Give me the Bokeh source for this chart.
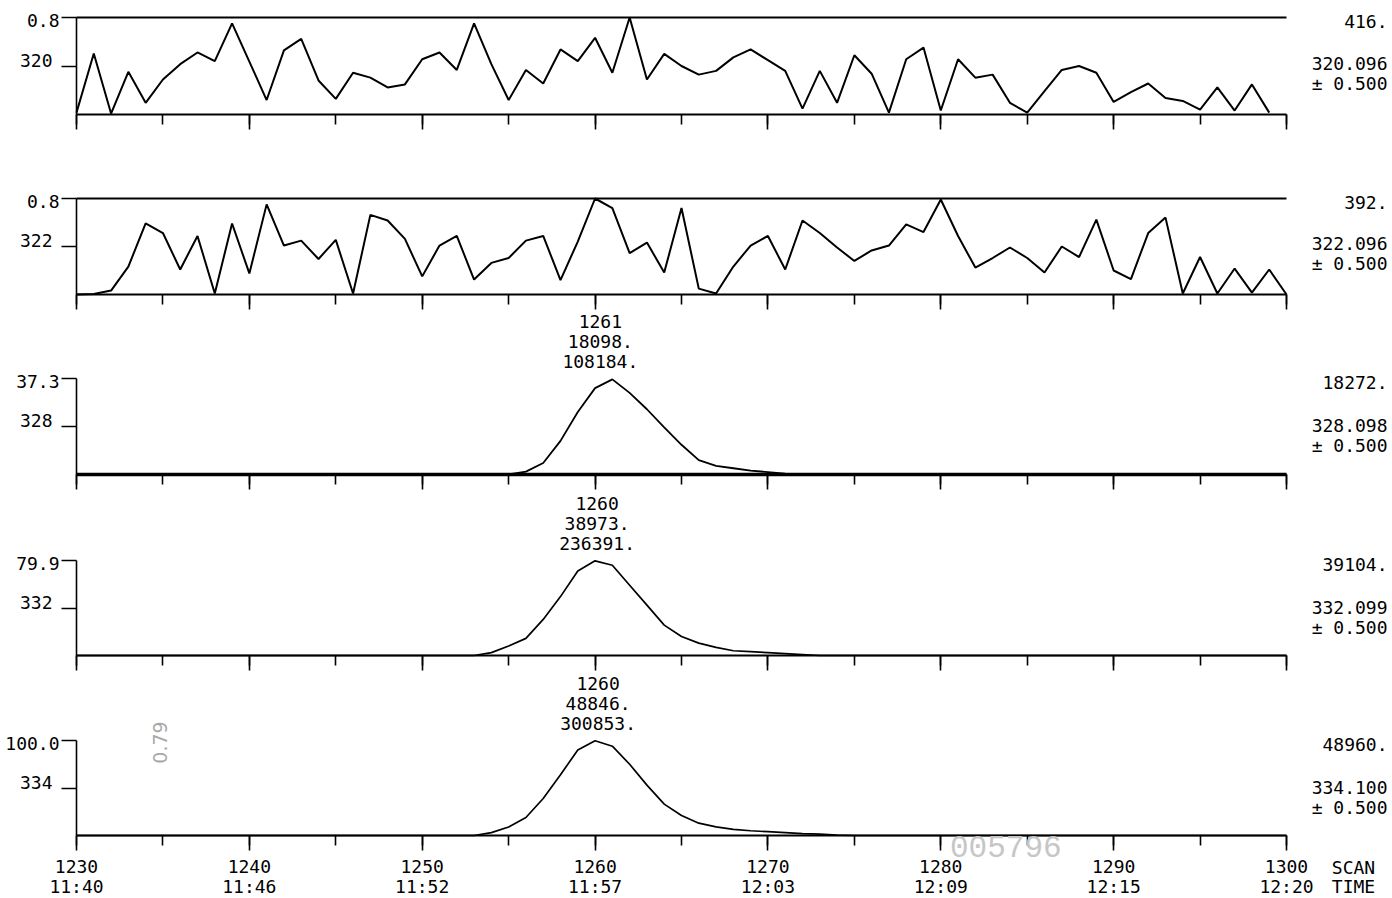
from math import pi
from bokeh.plotting import figure
from bokeh.models import (LinearAxis, SingleIntervalTicker, FixedTicker,
                          Label, Range1d)
from bokeh.layouts import column
from bokeh.embed import file_html
from bokeh.resources import INLINE

FONT = "DejaVu Sans Mono"
FS = "18px"

# ---------------- data ----------------
scan_ticks = [1230, 1240, 1250, 1260, 1270, 1280, 1290, 1300]
time_labels = ["11:40", "11:46", "11:52", "11:57", "12:03", "12:09", "12:15", "12:20"]

mass_nominal = ["320", "322", "328", "332", "334"]
mass_exact = ["320.096", "322.096", "328.098", "332.099", "334.100"]
mass_window = "± 0.500"
scale_pct = ["0.8", "0.8", "37.3", "79.9", "100.0"]
full_scale = [416, 392, 18272, 39104, 48960]

# m/z 320 trace (scans 1230-1299)
scans_320 = list(range(1230, 1300))
ion_320 = [8, 262, 4, 183, 50, 150, 216, 266, 229, 391,
           227, 62, 275, 324, 146, 67, 179, 158, 116, 129,
           237, 266, 191, 391, 216, 62, 191, 133, 279, 229,
           329, 179, 416, 150, 260, 208, 171, 187, 245, 279,
           233, 187, 25, 187, 50, 254, 175, 8, 237, 287,
           17, 237, 158, 171, 50, 8, 100, 191, 208, 179,
           54, 96, 133, 71, 58, 21, 116, 17, 129, 8]

# m/z 322 trace (scans 1230-1300)
scans_322 = list(range(1230, 1301))
ion_322 = [0, 2, 16, 114, 290, 251, 102, 239, 4, 290,
           86, 368, 200, 220, 145, 223, 4, 325, 302, 227,
           74, 200, 239, 61, 129, 149, 220, 239, 59, 216,
           392, 353, 169, 212, 90, 353, 24, 4, 114, 200,
           239, 102, 302, 251, 192, 137, 180, 200, 286, 255,
           388, 239, 110, 149, 192, 149, 90, 196, 153, 306,
           98, 63, 251, 314, 4, 153, 4, 106, 8, 102, 0]

# m/z 328 trace
scans_328 = [1230, 1255, 1256, 1257, 1258, 1259, 1260, 1261, 1262, 1263,
             1264, 1265, 1266, 1267, 1268, 1269, 1270, 1271, 1272, 1300]
ion_328 = [0, 0, 550, 2190, 6400, 11880, 16440, 18098, 15530, 12420,
           8950, 5660, 2740, 1640, 1190, 730, 460, 180, 0, 0]

# m/z 332 trace
scans_332 = [1230, 1253, 1254, 1255, 1256, 1257, 1258, 1259, 1260, 1261,
             1262, 1263, 1264, 1265, 1266, 1267, 1268, 1269, 1270, 1271,
             1272, 1273, 1300]
ion_332 = [0, 0, 1170, 3910, 7040, 14860, 24240, 34800, 38973, 37150,
           28940, 20730, 12510, 7820, 5080, 3320, 1960, 1560, 1170, 780,
           390, 0, 0]

# m/z 334 trace
scans_334 = [1230, 1253, 1254, 1255, 1256, 1257, 1258, 1259, 1260, 1261,
             1262, 1263, 1264, 1265, 1266, 1267, 1268, 1269, 1270, 1271,
             1272, 1273, 1274, 1275, 1300]
ion_334 = [0, 0, 1470, 4410, 9300, 19090, 31330, 44060, 48846, 46020,
           36720, 25950, 16160, 10280, 6360, 4410, 3180, 2450, 1960, 1470,
           980, 730, 240, 0, 0]

# peak annotations for panels 3-5
peak_scan = [1261, 1260, 1260]
peak_height = [18098, 38973, 48846]
peak_area = [108184, 236391, 300853]

traces = [(scans_320, ion_320), (scans_322, ion_322), (scans_328, ion_328),
          (scans_332, ion_332), (scans_334, ion_334)]

# ---------------- layout (pixel geometry of the page) ----------------
W = 1392
X_LEFT_PX, X_RIGHT_PX = 76, 1286          # page x of first / last scan tick
fig_h = [150, 162, 180, 182, 224]          # heights of the stacked figures
fig_top = [0, 150, 312, 492, 674]          # page y where each figure starts
panel_top = [17, 198, 378, 560, 740]       # page y of full scale
panel_base = [114, 294, 474, 655, 835]     # page y of zero
trace_lw = [2, 2, 1.8, 1.7, 1.7]
base_lw = [2, 2, 3.5, 2, 2]
ann_dx = [-12, 2, 3]

s0, s1 = scan_ticks[0], scan_ticks[-1]
ppu = (X_RIGHT_PX - X_LEFT_PX) / (s1 - s0)
x_start = s0 - X_LEFT_PX / ppu
x_end = s1 + (W - X_RIGHT_PX) / ppu


def lab(p, x, y, text, dx=0, dy=0, align="center", font=FONT, size=FS,
        color="black", angle=0.0):
    p.add_layout(Label(x=x, y=y, x_offset=dx, y_offset=dy, text=text,
                       text_align=align, text_baseline="middle", angle=angle,
                       text_font=font, text_font_size=size, text_color=color))


figs = []
for i in range(5):
    fs = full_scale[i]
    H = fig_h[i]
    t = panel_top[i] - fig_top[i]
    b = panel_base[i] - fig_top[i]
    k = fs / (b - t)
    y_start = -(H - b) * k
    y_end = fs + t * k

    p = figure(width=W, height=H, x_range=Range1d(x_start, x_end),
               y_range=Range1d(y_start, y_end), output_backend="svg",
               toolbar_location=None, x_axis_location=None, y_axis_location=None,
               min_border=0)
    p.outline_line_color = None
    p.background_fill_color = "white"
    p.border_fill_color = "white"
    p.grid.visible = False

    # x axis along the baseline: major ticks every 10 scans, minor every 5
    xa = LinearAxis(ticker=SingleIntervalTicker(interval=10, num_minor_ticks=2),
                    fixed_location=0, bounds=(s0, s1))
    xa.axis_line_width = base_lw[i]
    xa.axis_line_color = "black"
    xa.major_tick_out = 15
    xa.major_tick_in = 0
    xa.minor_tick_out = 10
    xa.minor_tick_in = 0
    xa.major_tick_line_width = 1.6
    xa.minor_tick_line_width = 1.6
    xa.major_tick_line_color = "black"
    xa.minor_tick_line_color = "black"
    if i == 4:
        xa.major_label_text_font = FONT
        xa.major_label_text_font_size = FS
        xa.major_label_text_color = "black"
        xa.major_label_standoff = 9
    else:
        xa.major_label_text_color = None
    p.add_layout(xa, "below")

    if i == 4:
        ta = LinearAxis(ticker=FixedTicker(ticks=scan_ticks), fixed_location=0,
                        bounds=(s0, s1),
                        major_label_overrides={tk: tl for tk, tl in zip(scan_ticks, time_labels)})
        ta.axis_line_color = None
        ta.major_tick_line_color = None
        ta.minor_tick_line_color = None
        ta.major_tick_out = 0
        ta.major_tick_in = 0
        ta.major_label_standoff = 40
        ta.major_label_text_font = FONT
        ta.major_label_text_font_size = FS
        ta.major_label_text_color = "black"
        p.add_layout(ta, "below")

    # left axis: ticks at full scale and mid scale
    ya = LinearAxis(ticker=FixedTicker(ticks=[fs // 2, fs]), fixed_location=s0,
                    bounds=(0, fs))
    ya.axis_line_width = 1.6
    ya.axis_line_color = "black"
    ya.major_tick_out = 15
    ya.major_tick_in = 0
    ya.major_tick_line_width = 1.6
    ya.major_tick_line_color = "black"
    ya.major_label_text_color = None
    p.add_layout(ya, "left")

    # left texts: full-scale percent and nominal mass
    lab(p, s0, fs, scale_pct[i], dx=-17, dy=-3, align="right")
    lab(p, s0, fs // 2, mass_nominal[i], dx=-24, dy=6, align="right")

    if i < 2:
        p.segment(x0=[s0], y0=[fs], x1=[s1], y1=[fs], line_color="black", line_width=2)

    sx, sy = traces[i]
    p.line(sx, sy, line_color="black", line_width=trace_lw[i])

    # right-hand texts
    dy_mid = 3 if i < 2 else 1
    lab(p, s1, fs, f"{fs}.", dx=101, dy=-4, align="right")
    lab(p, s1, fs // 2, mass_exact[i], dx=101, dy=dy_mid, align="right")
    lab(p, s1, fs // 2, mass_window, dx=101, dy=dy_mid - 20, align="right")

    if i >= 2:
        j = i - 2
        lab(p, peak_scan[j], fs, str(peak_scan[j]), dx=ann_dx[j], dy=57)
        lab(p, peak_scan[j], fs, f"{peak_height[j]}.", dx=ann_dx[j], dy=37)
        lab(p, peak_scan[j], fs, f"{peak_area[j]}.", dx=ann_dx[j], dy=17)

    if i == 4:
        lab(p, s1, 0, "SCAN", dx=67, dy=-32)
        lab(p, s1, 0, "TIME", dx=67, dy=-51)
        # marks on the scanned page
        lab(p, 1280, 0, "005796", dx=65, dy=-11, font="Liberation Mono", size="31px",
            color="#c6c6c6")
        lab(p, 1235, fs, "0.79", dx=-3, dy=-2, font="DejaVu Sans", size="19px",
            color="#a8a8a8", angle=pi / 2)
    figs.append(p)

layout = column(*figs, spacing=0)
open("out.html", "w").write(file_html(layout, INLINE))
